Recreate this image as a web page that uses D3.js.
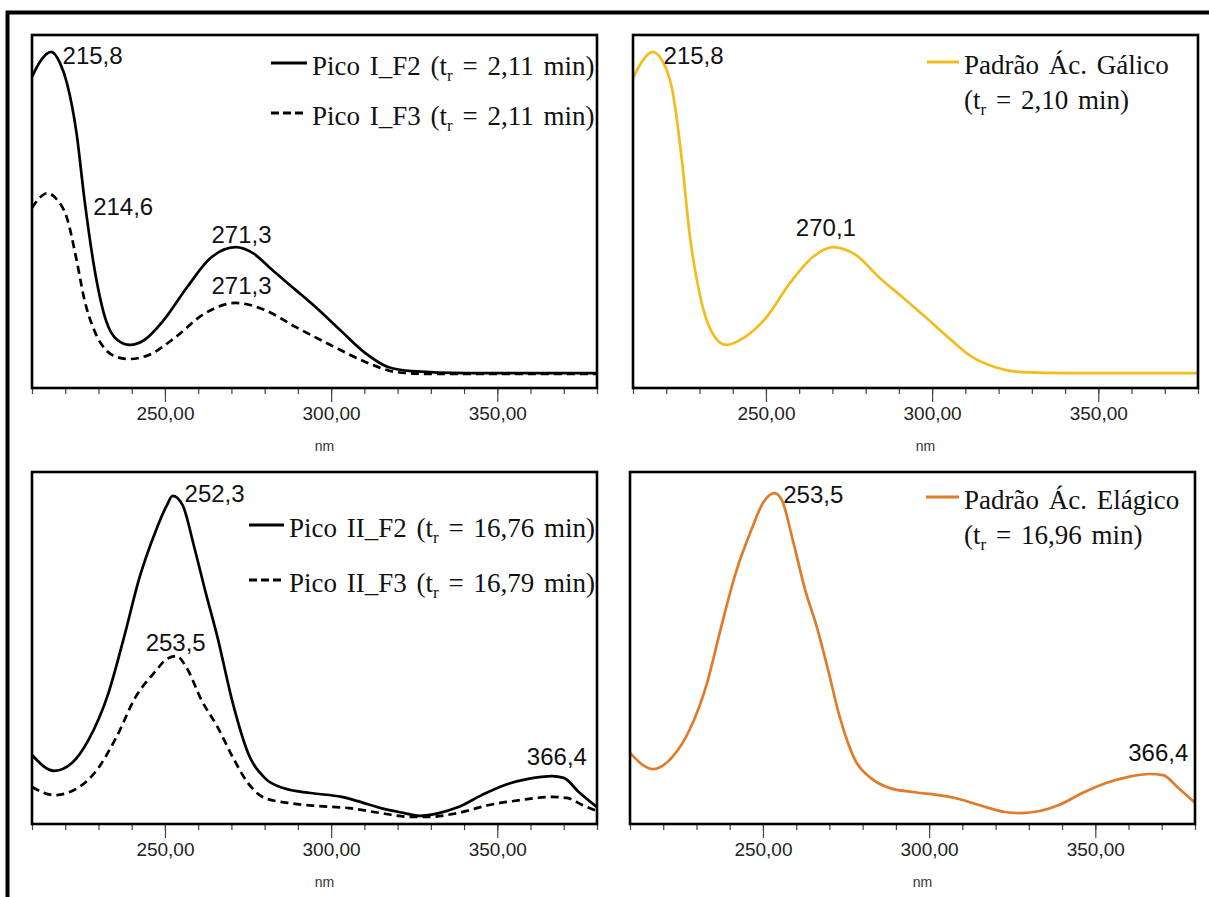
<!DOCTYPE html>
<html>
<head>
<meta charset="utf-8">
<script src="https://cdn.jsdelivr.net/npm/d3@7"></script>
<style>
  body { margin: 0; background: #fff; }
</style>
</head>
<body>
<svg id="chart"></svg>
<script>
// values: wavelength (nm) and relative absorbance (0 = x axis, 100 = top of frame)
const nmTicks = d3.range(210, 381, 10);
const nmLabelTicks = [250, 300, 350];

const picoI_F2_nm  = [210, 212.4, 215.8, 218.4, 220.5, 223.4, 225.8, 228.7, 232.2, 235.7, 239.5, 243.8, 249.7, 256.7, 263.7, 271.3, 276.5, 282.3, 289.3, 296.3, 303.3, 310.3, 317.3, 324.3, 340.7, 380];
const picoI_F2_abs = [88.1, 92.4, 95.2, 92.1, 86.4, 72.2, 53.3, 34.3, 19.3, 13.6, 12.2, 13.6, 19.3, 28.6, 36.8, 39.9, 38.2, 33.4, 27.8, 22.1, 15.9, 9.9, 5.9, 4.8, 4.2, 4.2];

const picoI_F3_nm  = [210, 212.4, 214.6, 217.5, 220.5, 223.4, 225.8, 228.7, 232.2, 235.5, 239.2, 245, 253.2, 261.3, 271.3, 280, 289.3, 299.8, 310.3, 319.7, 329, 380];
const picoI_F3_abs = [51.0, 54.0, 55.2, 53.4, 48.2, 36.3, 24.9, 16.4, 10.8, 8.8, 8.2, 9.3, 14.4, 20.7, 24.1, 22.1, 17.3, 12.2, 7.4, 4.5, 4.0, 4.0];

const galico_nm  = [210, 213, 215.8, 219, 222, 224.7, 227, 230, 233.4, 238, 243.3, 250.2, 257.2, 264.1, 270.1, 277, 284, 291, 298, 305, 312, 319, 327, 341, 380];
const galico_abs = [87.8, 92.9, 95.2, 92.4, 83.6, 64.6, 43.9, 26.9, 16.4, 12.2, 14.2, 20.1, 29.7, 37.1, 39.9, 37.7, 31.4, 25.8, 20.1, 14.2, 8.8, 5.9, 4.5, 4.2, 4.2];

const picoII_F2_nm  = [210, 216.7, 222, 227, 233, 237.7, 242.4, 247, 250.6, 252.3, 255.3, 258.8, 262.3, 265.8, 270.4, 275, 280, 285.6, 293.8, 303.2, 308, 315, 322, 326.6, 332.4, 338.3, 345.3, 352.3, 359.3, 366.4, 370, 374.5, 380];
const picoII_F2_abs = [19.6, 15.1, 17.3, 23.9, 37.2, 53.1, 70.2, 82.7, 90.6, 93.2, 90.6, 78.7, 65.6, 53.1, 34.4, 20.2, 13.1, 10.2, 8.8, 7.7, 6.5, 4.5, 3.1, 2.3, 3.1, 4.8, 8.2, 11.1, 12.8, 13.6, 13.1, 9.1, 4.8];

const picoII_F3_nm  = [210, 216.7, 223.7, 229.5, 235.4, 241.2, 247, 250.6, 253.5, 256.4, 261, 265.8, 270.4, 275, 280, 287, 296, 305.5, 315, 324, 329, 338, 347.6, 357, 366.3, 371, 375.6, 380];
const picoII_F3_abs = [10.5, 8.2, 10.2, 15.3, 24.7, 36.1, 43.2, 46.9, 47.7, 44.6, 35.2, 27.6, 19.0, 11.6, 7.4, 6.0, 5.1, 4.5, 3.1, 2.0, 2.0, 3.1, 5.4, 6.8, 7.7, 7.4, 5.4, 3.7];

const elagico_nm  = [210, 216.9, 222.7, 227.9, 233.2, 237.2, 241.8, 246.5, 250, 253.5, 255.7, 259.2, 262.7, 266.2, 269.6, 273.1, 277.7, 282.4, 288.2, 295.1, 304.4, 309, 316, 322.9, 327.6, 333.3, 339.1, 346.1, 353, 360, 366.4, 370.4, 375, 380];
const elagico_abs = [20.2, 15.6, 19.0, 26.7, 40.1, 55.1, 71.3, 83.5, 91.2, 94.0, 92.0, 79.8, 66.5, 56.0, 43.8, 30.4, 18.2, 13.1, 10.2, 9.1, 8.0, 7.1, 5.1, 3.4, 3.1, 3.7, 5.4, 8.8, 11.6, 13.4, 14.2, 13.9, 10.2, 6.0];

// peak labels: text and the (nm, absorbance) point where the text starts
const labelsI   = [['215,8', 219.2, 91.8], ['214,6', 228.4, 49.0], ['271,3', 264, 41.0], ['271,3', 264, 26.6]];
const labelsGal = [['215,8', 219.2, 91.8], ['270,1', 259, 43.1]];
const labelsII  = [['252,3', 255.9, 91.5], ['253,5', 244.2, 49.1], ['366,4', 358.9, 16.8]];
const labelsEla = [['253,5', 256.1, 91.2], ['366,4', 359.9, 17.9]];

const fmtTick = d => d3.format('.2f')(d).replace('.', ',');

const svg = d3.select('#chart')
.attr('width', 1209)
.attr('height', 897);

svg.append('rect')
.attr('width', 1209)
.attr('height', 897)
.attr('fill', '#fff');

// outer frame, only the top and left sides are inside the picture
svg.append('path')
.attr('d', 'M7.5,897V12.5H1209')
.attr('fill', 'none')
.attr('stroke', '#000')
.attr('stroke-width', 4);

const panels = [
  {left: 32, right: 597, top: 35, bottom: 388,
   series: [
     {nm: picoI_F2_nm, abs: picoI_F2_abs, color: '#000', dash: null},
     {nm: picoI_F3_nm, abs: picoI_F3_abs, color: '#000', dash: '8,5'}],
   labels: labelsI,
   legend: [
     {y: 63, line: [271, 307], color: '#000', dash: null, rows: [['Pico I_F2 (t', 'r', ' = 2,11 min)']]},
     {y: 113, line: [271, 307], color: '#000', dash: '8,4', rows: [['Pico I_F3 (t', 'r', ' = 2,11 min)']]}]},
  {left: 633, right: 1198, top: 35, bottom: 388,
   series: [{nm: galico_nm, abs: galico_abs, color: '#f2bd1c', dash: null}],
   labels: labelsGal,
   legend: [
     {y: 62, line: [927, 959], color: '#f2bd1c', dash: null, rows: [['Padrão Ác. Gálico', '', ''], ['(t', 'r', ' = 2,10 min)']]}]},
  {left: 32, right: 597, top: 472, bottom: 824,
   series: [
     {nm: picoII_F2_nm, abs: picoII_F2_abs, color: '#000', dash: null},
     {nm: picoII_F3_nm, abs: picoII_F3_abs, color: '#000', dash: '8,5'}],
   labels: labelsII,
   legend: [
     {y: 525, line: [249, 284], color: '#000', dash: null, rows: [['Pico II_F2 (t', 'r', ' = 16,76 min)']]},
     {y: 580, line: [249, 284], color: '#000', dash: '8,4', rows: [['Pico II_F3 (t', 'r', ' = 16,79 min)']]}]},
  {left: 630, right: 1195, top: 472, bottom: 824,
   series: [{nm: elagico_nm, abs: elagico_abs, color: '#e07b2a', dash: null}],
   labels: labelsEla,
   legend: [
     {y: 497, line: [926, 959], color: '#e07b2a', dash: null, rows: [['Padrão Ác. Elágico', '', ''], ['(t', 'r', ' = 16,96 min)']]}]}
];

panels.forEach(p => {
  const x = d3.scaleLinear()
  .domain([210, 380])
  .range([p.left, p.right]);

  const y = d3.scaleLinear()
  .domain([0, 100])
  .range([p.bottom, p.top]);

  // minor ticks every 10 nm
  svg.append('g')
  .attr('transform', `translate(0, ${p.bottom})`)
  .call(d3.axisBottom(x).tickValues(nmTicks).tickSize(6).tickFormat(''))
  .call(g => g.select('.domain').remove())
  .call(g => g.selectAll('line').attr('stroke', '#444').attr('stroke-width', 1.2));

  // labelled ticks
  svg.append('g')
  .attr('transform', `translate(0, ${p.bottom})`)
  .call(d3.axisBottom(x).tickValues(nmLabelTicks).tickSize(14).tickFormat(fmtTick))
  .call(g => g.select('.domain').remove())
  .call(g => g.selectAll('line').attr('stroke', '#444').attr('stroke-width', 1.2))
  .call(g => g.selectAll('text')
    .attr('y', 32)
    .attr('dy', 0)
    .attr('fill', '#222')
    .style('font-family', '"Liberation Sans", Arial, sans-serif')
    .style('font-size', '19px'));

  svg.append('text')
  .attr('x', x(298))
  .attr('y', p.bottom + 63)
  .attr('text-anchor', 'middle')
  .attr('fill', '#333')
  .style('font-family', '"Liberation Sans", Arial, sans-serif')
  .style('font-size', '14px')
  .text('nm');

  const line = d3.line()
  .x(d => x(d[0]))
  .y(d => y(d[1]))
  .curve(d3.curveMonotoneX);

  p.series.forEach(s => {
    svg.append('path')
    .datum(d3.zip(s.nm, s.abs))
    .attr('fill', 'none')
    .attr('stroke', s.color)
    .attr('stroke-width', 2.7)
    .attr('stroke-linejoin', 'round')
    .attr('stroke-dasharray', s.dash)
    .attr('d', line);
  });

  // plot frame
  svg.append('rect')
  .attr('x', p.left)
  .attr('y', p.top)
  .attr('width', p.right - p.left)
  .attr('height', p.bottom - p.top)
  .attr('fill', 'none')
  .attr('stroke', '#000')
  .attr('stroke-width', 2.6);

  svg.selectAll(null)
  .data(p.labels)
  .enter()
  .append('text')
  .attr('x', d => x(d[1]))
  .attr('y', d => y(d[2]))
  .attr('fill', '#111')
  .style('font-family', '"Liberation Sans", Arial, sans-serif')
  .style('font-size', '24px')
  .text(d => d[0]);

  p.legend.forEach(l => {
    svg.append('line')
    .attr('x1', l.line[0])
    .attr('x2', l.line[1])
    .attr('y1', l.y)
    .attr('y2', l.y)
    .attr('stroke', l.color)
    .attr('stroke-width', 3)
    .attr('stroke-dasharray', l.dash);

    l.rows.forEach((r, i) => {
      const t = svg.append('text')
      .attr('x', l.line[1] + 5)
      .attr('y', l.y + 12 + i * 35)
      .attr('fill', '#111')
      .style('font-family', '"Liberation Serif", "Times New Roman", serif')
      .style('font-size', '27px')
      .style('word-spacing', '3px');
      t.append('tspan').text(r[0]);
      if (r[1]) {
        t.append('tspan').attr('dy', 6).style('font-size', '17px').text(r[1]);
        t.append('tspan').attr('dy', -6).text(r[2]);
      }
    });
  });
});
</script>
</body>
</html>
